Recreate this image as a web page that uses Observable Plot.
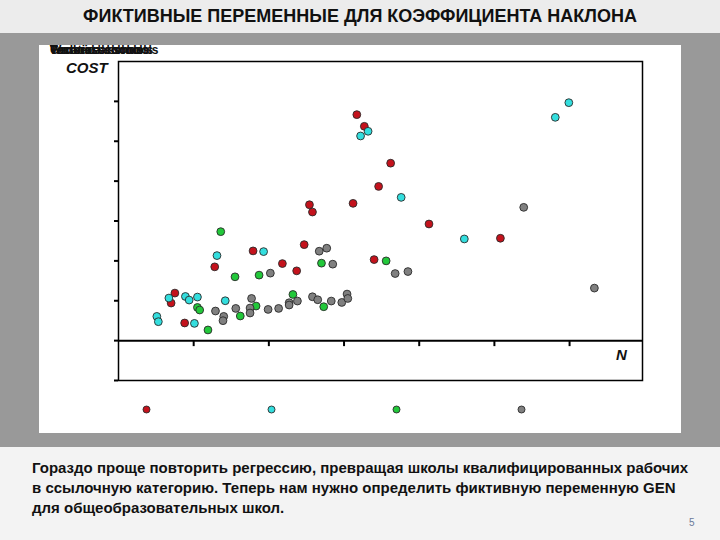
<!DOCTYPE html>
<html><head><meta charset="utf-8">
<script src="https://cdn.jsdelivr.net/npm/d3@7"></script>
<script src="https://cdn.jsdelivr.net/npm/@observablehq/plot@0.6"></script>
<style>
html,body{margin:0;padding:0;}
body{width:720px;height:540px;position:relative;overflow:hidden;background:#999999;font-family:"Liberation Sans",Arial,sans-serif;}
#top{position:absolute;left:0;top:0;width:720px;height:33px;background:#ececec;}
#title{position:absolute;left:0;top:6px;width:720px;text-align:center;font-weight:bold;font-size:18px;line-height:20px;color:#111;}
#panel{position:absolute;left:39px;top:45px;width:642px;height:388px;background:#fff;}
#bottom{position:absolute;left:0;top:447px;width:720px;height:93px;background:#f3f3f3;}
#text{position:absolute;left:32px;top:458px;font-weight:bold;font-size:15px;line-height:20px;color:#111;white-space:nowrap;}
#page{position:absolute;left:689px;top:517px;font-size:10px;color:#6a7a9a;}
.lbl{position:absolute;font-weight:bold;font-style:italic;font-size:15px;color:#111;}
.ser{position:absolute;left:50px;top:44px;font-weight:bold;font-size:12px;line-height:13px;color:#111;white-space:nowrap;}
#chart,#legend{position:absolute;}
</style></head>
<body>
<div id="top"></div>
<div id="title">ФИКТИВНЫЕ ПЕРЕМЕННЫЕ ДЛЯ КОЭФФИЦИЕНТА НАКЛОНА</div>
<div id="panel"></div>
<div id="chart" style="left:39px;top:45px;"></div>
<div id="legend" style="left:39px;top:395px;"></div>
<div id="serlabels"></div>
<div class="lbl" style="left:66px;top:59px;">COST</div>
<div class="lbl" style="left:616px;top:346px;">N</div>
<div id="bottom"></div>
<div id="text">Гораздо проще повторить регрессию, превращая школы квалифицированных рабочих<br>в ссылочную категорию. Теперь нам нужно определить фиктивную переменную GEN<br>для общеобразовательных школ.</div>
<div id="page">5</div>
<script>
// ---- data ----
const seriesNames = ["Technical schools", "Workers' schools", "Vocational schools", "General schools"];
const seriesColors = ["#c4121c", "#33dede", "#22c83a", "#808080"];

const redN    = [317, 327, 362, 346, 254, 258, 312, 413, 508, 247, 179, 128, 218, 237, 340, 75, 70, 88];
const redCost = [566750, 537500, 445000, 386750, 340750, 322500, 344250, 292500, 256750, 240750, 225000, 185000, 193250, 175000, 203250, 119250, 94250, 44250];

const cyanN    = [599, 581, 332, 322, 376, 460, 193, 131, 67, 89, 94, 105, 142, 51, 53, 101];
const cyanCost = [596750, 560000, 525000, 513250, 359250, 255000, 223250, 213250, 106750, 110750, 101750, 109250, 100000, 60750, 47500, 43250];

const greenN    = [136, 155, 187, 270, 356, 232, 105, 108, 183, 162, 273, 119];
const greenCost = [273250, 160000, 164250, 194250, 200000, 115750, 83250, 76750, 86750, 61750, 85000, 26750];

const grayN    = [539, 633, 267, 277, 285, 368, 385, 202, 177, 227, 238, 227, 129, 156, 175, 175, 199, 213, 140, 139, 258, 265, 283, 297, 304, 305];
const grayCost = [334250, 131750, 224250, 231750, 191750, 168250, 173250, 169250, 105750, 95000, 99250, 89250, 74250, 80750, 81750, 69250, 78250, 80750, 60750, 50000, 110000, 102500, 99250, 95750, 116750, 105750];

const xTicks = [100, 200, 300, 400, 500, 600];
const yTicks = [-100000, 0, 100000, 200000, 300000, 400000, 500000, 600000];

// ---- build table ----
const groups = [[redN, redCost], [cyanN, cyanCost], [greenN, greenCost], [grayN, grayCost]];
const points = [];
groups.forEach(([ns, cs], g) => ns.forEach((n, i) => points.push({N: n, COST: cs[i], type: seriesNames[g]})));

const chart = Plot.plot({
  width: 642, height: 388,
  marginLeft: 79, marginRight: 39, marginTop: 16, marginBottom: 53,
  x: {domain: [0, 697], axis: null},
  y: {domain: [-100000, 700000], axis: null},
  color: {domain: seriesNames, range: seriesColors},
  marks: [
    Plot.frame({stroke: "#000", strokeWidth: 1.5}),
    Plot.ruleY([0], {stroke: "#000", strokeWidth: 2}),
    Plot.ruleX(xTicks, {y1: 0, y2: 0, insetBottom: -6, stroke: "#000", strokeWidth: 2}),
    Plot.tickY(yTicks, {y: d => d, stroke: "#000", strokeWidth: 2}),
    Plot.dot(points, {x: "N", y: "COST", fill: "type", r: 3.9, stroke: "#2a2a2a", strokeWidth: 0.9})
  ]
});
// shorten the y tick marks to small ticks on the left of the frame
chart.querySelectorAll("g[aria-label='tick'] line").forEach(l => {
  l.setAttribute("x1", 75); l.setAttribute("x2", 79);
});
document.getElementById("chart").appendChild(chart);

const legend = Plot.plot({
  width: 642, height: 28, margin: 0, marginLeft: 106, marginRight: 159,
  x: {type: "point", domain: seriesNames, padding: 0, axis: null},
  y: {axis: null},
  color: {domain: seriesNames, range: seriesColors},
  marks: [Plot.dot(seriesNames, {x: d => d, fill: d => d, r: 3.5, stroke: "#2a2a2a", strokeWidth: 0.9})]
});
document.getElementById("legend").appendChild(legend);

const sl = document.getElementById("serlabels");
seriesNames.forEach(s => { const d = document.createElement("div"); d.className = "ser"; d.textContent = s; sl.appendChild(d); });
</script>
</body></html>
